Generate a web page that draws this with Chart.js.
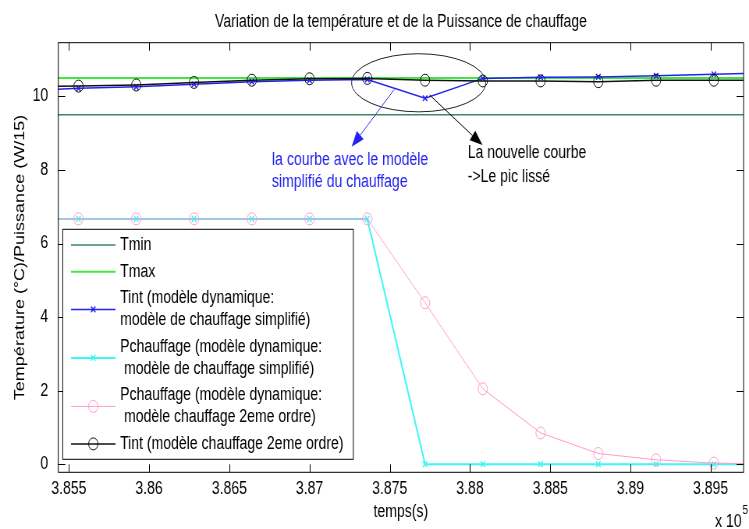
<!DOCTYPE html>
<html lang="fr">
<head>
    <meta charset="UTF-8">
    <title>Variation de la température et de la Puissance de chauffage</title>
    <script src="https://cdn.jsdelivr.net/npm/chart.js"></script>
    <style>
        html, body { margin: 0; padding: 0; background: #fff; overflow: hidden; }
    </style>
</head>
<body>
    <!-- the figure is drawn 960 wide, then squeezed to 749 like the original screenshot -->
    <canvas id="chart" width="960" height="529" style="display:block;width:749px;height:529px"></canvas>

    <script>
        // time samples (s); first and last lie just outside the visible window
        const temps = [385200, 385560, 385920, 386280, 386640, 387000, 387360, 387720, 388080, 388440, 388800, 389160, 389520, 389880];
        const tLimits = [385200, 389880];
        const tminVals = [9.5, 9.5];
        const tmaxVals = [10.5, 10.5];
        // modèle dynamique, chauffage simplifié
        const tintSimple = [10.14, 10.22, 10.26, 10.33, 10.40, 10.44, 10.46, 9.95, 10.49, 10.52, 10.53, 10.56, 10.60, 10.64];
        const pchSimple  = [6.67, 6.67, 6.67, 6.67, 6.67, 6.67, 6.67, 0, 0, 0, 0, 0, 0, 0];
        // modèle chauffage 2eme ordre
        const pch2  = [6.67, 6.67, 6.67, 6.67, 6.67, 6.67, 6.67, 4.39, 2.05, 0.85, 0.29, 0.12, 0.03, 0.01];
        const tint2 = [10.27, 10.28, 10.31, 10.38, 10.44, 10.48, 10.49, 10.44, 10.42, 10.42, 10.40, 10.44, 10.44, 10.44];

        const xTicks = [385500, 386000, 386500, 387000, 387500, 388000, 388500, 389000, 389500];
        const yTicks = [0, 2, 4, 6, 8, 10];
        const xRange = [385434, 389705];
        const yRange = [-0.22, 11.46];

        const FONT = '"Liberation Sans", Arial, sans-serif';

        const colors = {
            tmin: '#3d8a62',
            tmax: '#3ee83e',
            tintSimple: '#2323f0',
            pchSimple: '#3ff5f5',
            pch2: '#ff9ccb',
            tint2: '#111111'
        };

        const legendItems = [
            { ds: 0, lines: ['Tmin'] },
            { ds: 1, lines: ['Tmax'] },
            { ds: 2, lines: ['Tint (modèle dynamique:', 'modèle de chauffage simplifié)'] },
            { ds: 3, lines: ['Pchauffage (modèle dynamique:', ' modèle de chauffage simplifié)'] },
            { ds: 4, lines: ['Pchauffage (modèle dynamique:', ' modèle chauffage 2eme ordre)'] },
            { ds: 5, lines: ['Tint (modèle chauffage 2eme ordre)'] }
        ];

        function pts(xs, ys) {
            return xs.map((x, i) => ({ x: x, y: ys[i] }));
        }

        function txt(ctx, s, x, y, size, color, align) {
            ctx.save();
            ctx.font = size + 'px ' + FONT;
            ctx.fillStyle = color;
            ctx.textAlign = align || 'left';
            ctx.textBaseline = 'middle';
            ctx.fillText(s, x, y);
            ctx.restore();
        }

        function marker(ctx, style, x, y, r, color, lw) {
            ctx.save();
            ctx.strokeStyle = color;
            ctx.lineWidth = lw;
            ctx.beginPath();
            if (style === 'circle') {
                ctx.arc(x, y, r, 0, Math.PI * 2);
            } else if (style === 'crossRot') {
                const d = r * Math.SQRT1_2;
                ctx.moveTo(x - d, y - d); ctx.lineTo(x + d, y + d);
                ctx.moveTo(x - d, y + d); ctx.lineTo(x + d, y - d);
            }
            ctx.stroke();
            ctx.restore();
        }

        function arrow(ctx, x1, y1, x2, y2, color) {
            const a = Math.atan2(y2 - y1, x2 - x1);
            const len = 16, hw = 6;
            const bx = x2 - len * Math.cos(a), by = y2 - len * Math.sin(a);
            ctx.save();
            ctx.strokeStyle = color;
            ctx.fillStyle = color;
            ctx.lineWidth = 1;
            ctx.beginPath();
            ctx.moveTo(x1, y1);
            ctx.lineTo(bx, by);
            ctx.stroke();
            ctx.beginPath();
            ctx.moveTo(x2, y2);
            ctx.lineTo(bx + hw * Math.sin(a), by - hw * Math.cos(a));
            ctx.lineTo(bx - hw * Math.sin(a), by + hw * Math.cos(a));
            ctx.closePath();
            ctx.fill();
            ctx.restore();
        }

        // matlab style box, inward ticks, annotations and the legend
        const figurePlugin = {
            id: 'figure',
            afterDatasetsDraw(chart) {
                const ctx = chart.ctx;
                const a = chart.chartArea;
                const xs = chart.scales.x;
                const ys = chart.scales.y;
                const px = (t, v) => [xs.getPixelForValue(t), ys.getPixelForValue(v)];

                ctx.save();
                ctx.strokeStyle = '#000';
                ctx.lineWidth = 1;
                ctx.strokeRect(a.left, a.top, a.right - a.left, a.bottom - a.top);
                ctx.beginPath();
                xs.ticks.forEach(t => {
                    const p = Math.round(xs.getPixelForValue(t.value)) + 0.5;
                    ctx.moveTo(p, a.bottom); ctx.lineTo(p, a.bottom - 8);
                    ctx.moveTo(p, a.top); ctx.lineTo(p, a.top + 8);
                });
                ys.ticks.forEach(t => {
                    const p = Math.round(ys.getPixelForValue(t.value)) + 0.5;
                    ctx.moveTo(a.left, p); ctx.lineTo(a.left + 9, p);
                    ctx.moveTo(a.right, p); ctx.lineTo(a.right - 9, p);
                });
                ctx.stroke();
                ctx.restore();

                // annotation: ellipse round the peak
                const [ex, ey] = px(387680, 10.37);
                const rx = xs.getPixelForValue(387680 + 418) - ex;
                const ry = ys.getPixelForValue(10.37 - 0.79) - ey;
                ctx.save();
                ctx.strokeStyle = '#222';
                ctx.lineWidth = 1;
                ctx.beginPath();
                ctx.ellipse(ex, ey, rx, ry, 0, 0, Math.PI * 2);
                ctx.stroke();
                ctx.restore();

                const b1 = px(387528, 10.19), b2 = px(387262, 8.63);
                arrow(ctx, b1[0], b1[1], b2[0], b2[1], colors.tintSimple);
                const k1 = px(387748, 10.04), k2 = px(388078, 8.68);
                arrow(ctx, k1[0], k1[1], k2[0], k2[1], '#000');

                const bt = px(386766, 8.27);
                txt(ctx, 'la courbe avec le modèle', bt[0], bt[1], 18, colors.tintSimple);
                txt(ctx, 'simplifié du chauffage', bt[0], bt[1] + 21.7, 18, colors.tintSimple);
                const kt = px(387986, 8.45);
                txt(ctx, 'La nouvelle courbe', kt[0], kt[1], 18, '#000');
                txt(ctx, '->Le pic lissé', kt[0], kt[1] + 23.4, 18, '#000');

                // legend
                const L = { left: 80.4, top: 229.3, right: 452.8, bottom: 459.3 };
                ctx.save();
                ctx.fillStyle = '#fff';
                ctx.fillRect(L.left, L.top, L.right - L.left, L.bottom - L.top);
                ctx.strokeStyle = '#000';
                ctx.lineWidth = 1;
                ctx.strokeRect(L.left, L.top, L.right - L.left, L.bottom - L.top);
                ctx.restore();
                let y = L.top + 15.7;
                legendItems.forEach(item => {
                    const ds = chart.data.datasets[item.ds];
                    const n = item.lines.length;
                    const mid = y + (n - 1) * 11;
                    ctx.save();
                    ctx.strokeStyle = ds.borderColor;
                    ctx.lineWidth = ds.borderWidth;
                    ctx.beginPath();
                    ctx.moveTo(91, mid); ctx.lineTo(148, mid);
                    ctx.stroke();
                    ctx.restore();
                    if (ds.pointRadius > 0) {
                        marker(ctx, ds.pointStyle, 119.5, mid, ds.pointRadius, ds.borderColor, ds.pointBorderWidth);
                    }
                    item.lines.forEach((s, i) => txt(ctx, s, 154, y + i * 22, 18, '#000'));
                    y += n === 1 ? 26.7 : 48.5;
                });
            },
            afterDraw(chart) {
                const ctx = chart.ctx;
                const a = chart.chartArea;
                txt(ctx, 'Variation de la température et de la Puissance de chauffage', (a.left + a.right) / 2, 21.7, 18, '#000', 'center');
                txt(ctx, 'x 10', 916.5, 521.7, 18, '#000');
                txt(ctx, '5', 951.5, 510, 13, '#000');
            }
        };

        const tickFont = { family: FONT, size: 18 };

        new Chart(document.getElementById('chart'), {
            type: 'line',
            data: {
                datasets: [
                    { label: 'Tmin', data: pts(tLimits, tminVals), borderColor: colors.tmin, borderWidth: 1.5, pointRadius: 0, order: 6 },
                    { label: 'Tmax', data: pts(tLimits, tmaxVals), borderColor: colors.tmax, borderWidth: 2, pointRadius: 0, order: 5 },
                    { label: 'Tint simple', data: pts(temps, tintSimple), borderColor: colors.tintSimple, borderWidth: 1.5,
                      pointStyle: 'crossRot', pointRadius: 4, pointBorderWidth: 1.5, order: 4 },
                    { label: 'Pchauffage simple', data: pts(temps, pchSimple), borderColor: colors.pchSimple, borderWidth: 2,
                      pointStyle: 'crossRot', pointRadius: 4, pointBorderWidth: 1.5, order: 3 },
                    { label: 'Pchauffage 2eme ordre', data: pts(temps, pch2), borderColor: colors.pch2, borderWidth: 1,
                      pointStyle: 'circle', pointRadius: 6, pointBorderWidth: 1, pointBackgroundColor: 'rgba(0,0,0,0)', order: 2 },
                    { label: 'Tint 2eme ordre', data: pts(temps, tint2), borderColor: colors.tint2, borderWidth: 1.5,
                      pointStyle: 'circle', pointRadius: 6, pointBorderWidth: 1, pointBackgroundColor: 'rgba(0,0,0,0)', order: 1 }
                ]
            },
            options: {
                responsive: false,
                animation: false,
                layout: { padding: { top: 42.7, right: 2, bottom: 0, left: 0 } },
                plugins: { legend: { display: false }, tooltip: { enabled: false }, title: { display: false } },
                elements: { line: { tension: 0 } },
                scales: {
                    x: {
                        type: 'linear',
                        min: xRange[0], max: xRange[1],
                        grid: { display: false },
                        border: { display: false },
                        afterBuildTicks: s => { s.ticks = xTicks.map(v => ({ value: v })); },
                        ticks: {
                            maxRotation: 0, autoSkip: false,
                            font: tickFont, color: '#000', padding: -2.4,
                            callback: v => String(+(v / 1e5).toFixed(4))
                        },
                        title: { display: true, text: 'temps(s)', font: tickFont, color: '#000', padding: { top: 0, bottom: 6.5 } },
                        afterFit: s => { s.height = 56.7; }
                    },
                    y: {
                        min: yRange[0], max: yRange[1],
                        grid: { display: false },
                        border: { display: false },
                        afterBuildTicks: s => { s.ticks = yTicks.map(v => ({ value: v })); },
                        ticks: { font: tickFont, color: '#000', padding: 5 },
                        title: { display: true, text: 'Température (°C)/Puissance (W/15)', font: tickFont, color: '#000', padding: { top: 14.8, bottom: 0 } },
                        afterFit: s => { s.width = 74.7; }
                    }
                }
            },
            plugins: [figurePlugin]
        });
    </script>
</body>
</html>
